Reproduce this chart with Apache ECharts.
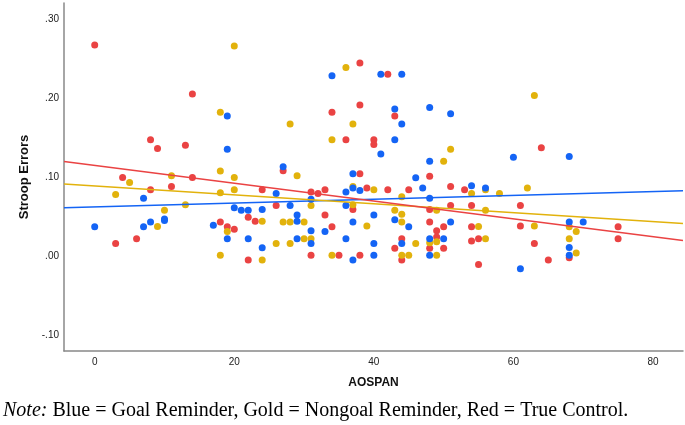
<!DOCTYPE html>
<html><head><meta charset="utf-8">
<script src="https://cdn.jsdelivr.net/npm/echarts@6/dist/echarts.min.js"></script>
<style>html,body{margin:0;padding:0;background:#fff}#c{width:685px;height:425px}</style>
</head><body><div id="c"></div>
<script>
// Goal Reminder (blue)
const blueX = [0,7,7,8,10,10,17,19,19,19,20,21,22,22,24,24,26,27,28,29,29,29,31,31,31,33,34,36,36,36,37,37,37,37,38,40,40,40,41,41,43,43,43,44,44,44,45,46,47,48,48,48,48,48,50,51,51,54,56,60,61,68,68,68,68,70];
const blueY = [0.037,0.073,0.037,0.043,0.047,0.045,0.039,0.177,0.135,0.022,0.061,0.058,0.058,0.022,0.059,0.0105,0.079,0.113,0.064,0.052,0.044,0.022,0.072,0.032,0.016,0.031,0.228,0.081,0.064,0.022,0.104,0.086,0.043,-0.005,0.083,0.052,0.016,0.001,0.230,0.129,0.186,0.147,0.046,0.230,0.167,0.016,0.037,0.099,0.086,0.188,0.120,0.073,0.022,0.001,0.022,0.180,0.043,0.089,0.086,0.125,-0.016,0.126,0.043,0.011,0.001,0.043];
// Nongoal Reminder (gold)
const goldX = [3,5,9,10,11,13,18,18,18,18,19,20,20,20,24,24,26,27,28,28,28,29,30,30,31,31,34,34,36,37,37,37,39,40,43,44,44,44,44,45,46,48,49,49,49,50,51,54,55,56,56,56,58,62,63,63,68,68,69,69];
const goldY = [0.078,0.093,0.0375,0.058,0.1015,0.065,0.182,0.1075,0.080,0.001,0.031,0.2655,0.0995,0.084,0.044,-0.005,0.016,0.043,0.167,0.043,0.016,0.1015,0.043,0.022,0.064,0.022,0.147,0.001,0.2385,0.167,0.065,0.088,0.038,0.084,0.058,0.075,0.053,0.043,0.001,0.001,0.016,0.017,0.058,0.018,0.001,0.120,0.135,0.079,0.0375,0.084,0.058,0.022,0.079,0.086,0.203,0.038,0.037,0.022,0.031,0.004];
// True Control (red)
const redX = [0,3,4,6,8,8,9,11,13,14,14,18,19,20,22,22,23,24,26,27,31,31,32,33,33,34,34,35,36,37,38,38,38,38,39,40,40,42,42,43,43,44,44,45,48,48,48,48,49,49,50,50,51,51,53,54,54,54,55,55,61,61,63,64,65,68,75,75];
const redY = [0.267,0.016,0.0995,0.022,0.147,0.084,0.136,0.088,0.140,0.205,0.0995,0.043,0.037,0.034,0.049,-0.005,0.044,0.084,0.064,0.108,0.081,0.001,0.079,0.084,0.052,0.182,0.037,0.001,0.147,0.059,0.244,0.191,0.104,0.001,0.086,0.147,0.141,0.230,0.084,0.177,0.010,0.022,-0.005,0.084,0.101,0.059,0.043,0.010,0.032,0.024,0.037,0.010,0.088,0.064,0.084,0.064,0.037,0.019,0.022,-0.0105,0.064,0.038,0.016,0.137,-0.005,-0.002,0.037,0.022];
// Fit lines (values at the two ends of the x range)
const fitX = [-4.4, 84.3];
const blueFit = [0.061, 0.0826];
const goldFit = [0.091, 0.0413];
const redFit = [0.1197, 0.0198];
// Tick labels
const xTicks = [0, 20, 40, 60, 80];
const yTicks = [-0.1, 0, 0.1, 0.2, 0.3];

const BLUE = '#1464f5', GOLD = '#e2b20c', RED = '#ea4343';
const zip = (xs, ys) => xs.map((x, i) => [x, ys[i]]);
const fmtY = v => { const s = Math.abs(v).toFixed(2).replace(/^0/, ''); return (v < -1e-9 ? '-' : '') + s; };

const chart = echarts.init(document.getElementById('c'), null, {renderer: 'canvas'});
const scatter = (name, xs, ys, color, z) => ({
  name, type: 'scatter', data: zip(xs, ys), symbol: 'circle', symbolSize: 7,
  itemStyle: {color, opacity: 1}, z, silent: true, animation: false
});
const fit = (name, ys, color) => ({
  name, type: 'line', data: zip(fitX, ys), symbol: 'none',
  lineStyle: {color, width: 1.5}, z: 10, silent: true, animation: false
});
chart.setOption({
  backgroundColor: '#fff',
  animation: false,
  grid: {left: 64, right: 2, top: 3, bottom: 74, containLabel: false},
  xAxis: {
    type: 'value', min: -4.4, max: 84.3,
    name: 'AOSPAN', nameLocation: 'middle', nameGap: 26,
    nameTextStyle: {fontFamily: 'Liberation Sans', fontWeight: 'bold', fontSize: 12, color: '#111'},
    axisLine: {show: true, onZero: false, lineStyle: {color: '#888', width: 1.5}},
    axisTick: {show: false},
    splitLine: {show: false},
    axisLabel: {customValues: xTicks, margin: 6, fontFamily: 'Liberation Sans', fontSize: 10, color: '#222', formatter: v => String(v)}
  },
  yAxis: {
    type: 'value', min: -0.12, max: 0.32,
    name: 'Stroop Errors', nameLocation: 'middle', nameGap: 33, nameRotate: 90,
    nameTextStyle: {fontFamily: 'Liberation Sans', fontWeight: 'bold', fontSize: 13, color: '#111'},
    axisLine: {show: true, onZero: false, lineStyle: {color: '#888', width: 1.5}},
    axisTick: {show: false},
    splitLine: {show: false},
    axisLabel: {customValues: yTicks, margin: 5, fontFamily: 'Liberation Sans', fontSize: 10, color: '#222', formatter: fmtY}
  },
  graphic: [{
    type: 'text', left: 3, top: 401,
    style: {
      text: '{i|Note:} Blue = Goal Reminder, Gold = Nongoal Reminder, Red = True Control.',
      font: '20px "Liberation Serif"', fill: '#000',
      rich: {i: {fontStyle: 'italic', fontFamily: 'Liberation Serif', fontSize: 20, fill: '#000'}}
    }
  }],
  series: [
    scatter('True Control', redX, redY, RED, 2),
    scatter('Nongoal Reminder', goldX, goldY, GOLD, 3),
    scatter('Goal Reminder', blueX, blueY, BLUE, 4),
    fit('Goal fit', blueFit, BLUE),
    fit('Nongoal fit', goldFit, GOLD),
    fit('Control fit', redFit, RED)
  ]
});
</script>
</body></html>
